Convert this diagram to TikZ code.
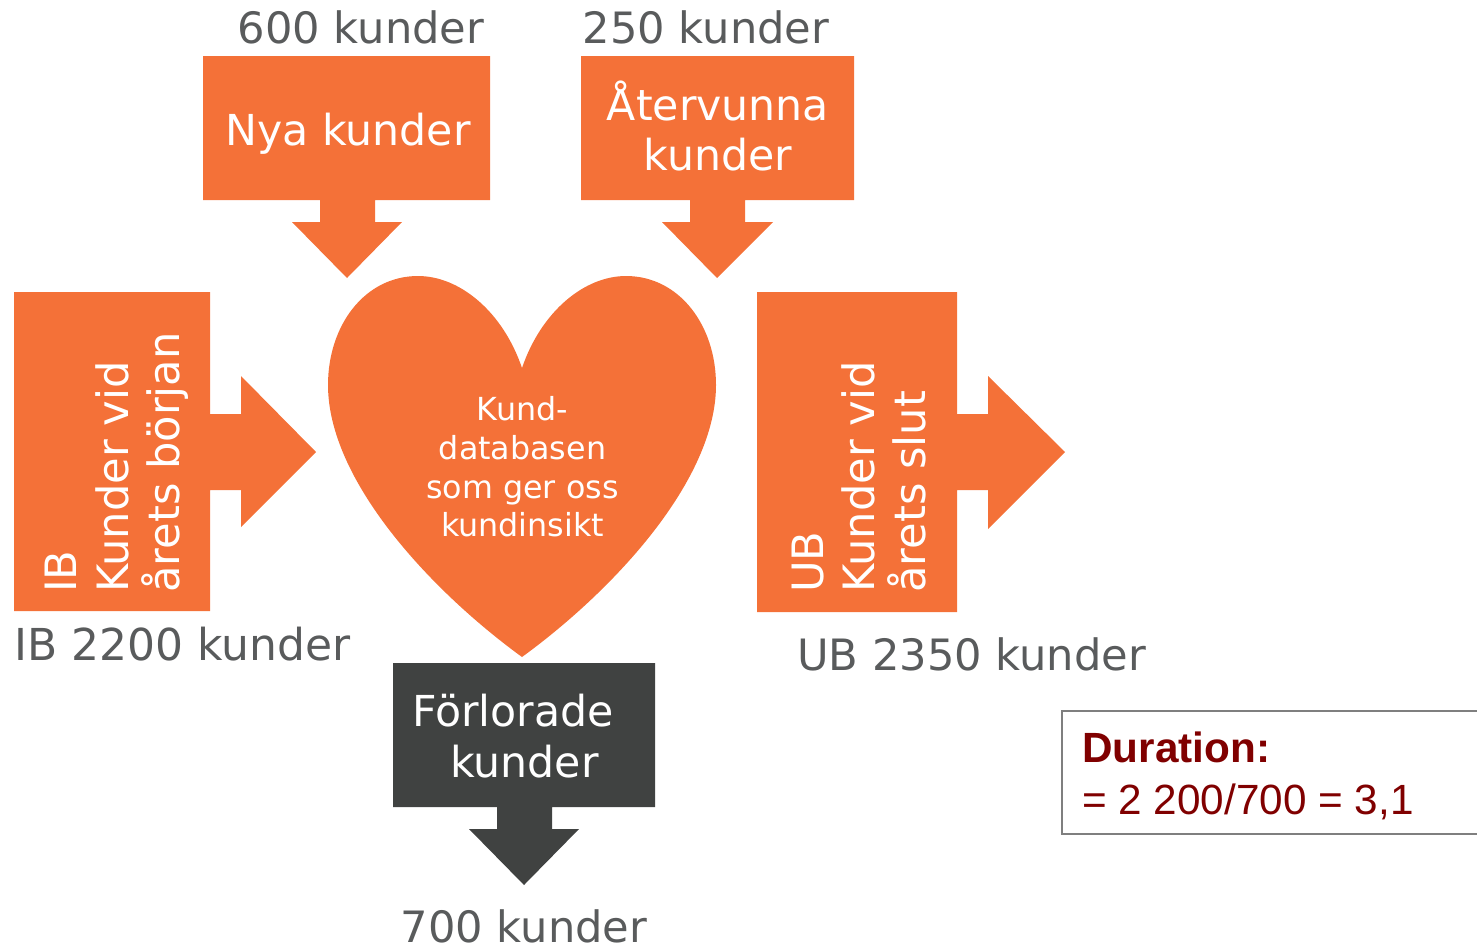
\documentclass[tikz,border=0pt]{standalone}
\usepackage{fontspec}
\setmainfont{DejaVu Sans}
\newfontfamily\arialfont{Liberation Sans}
\definecolor{orangefill}{HTML}{F47138}
\definecolor{darkfill}{HTML}{404241}
\definecolor{graytext}{HTML}{595B5C}
\definecolor{durred}{HTML}{800000}
\definecolor{durline}{HTML}{7F7F7F}
\tikzset{
  x=0.75pt,y=-0.75pt,
  orangeshape/.style={fill=orangefill,draw=none},
  darkshape/.style={fill=darkfill,draw=none},
  boxtext/.style={text=white,font=\fontsize{32}{38}\selectfont,align=center,inner sep=0pt},
  sidetext/.style={text=white,font=\fontsize{32.4}{38.5}\selectfont,align=left,inner sep=0pt,rotate=90},
  hearttext/.style={text=white,font=\fontsize{23.8}{29}\selectfont,align=center,inner sep=0pt},
  countlabel/.style={text=graytext,font=\fontsize{32.4}{38}\selectfont,inner sep=0pt},
  widecount/.style={text=graytext,font=\fontsize{33}{38}\selectfont,inner sep=0pt},
  durtext/.style={text=durred,font=\arialfont\fontsize{31.7}{39}\selectfont,align=left,inner sep=0pt},
}
\begin{document}
\begin{tikzpicture}
\useasboundingbox (0,0) rectangle (1477,947);
% Nya kunder
\fill[orangeshape] (203,56) -- (490,56) -- (490,200) -- (375,200) -- (375,222) -- (402,222) -- (347,278) -- (292,222) -- (320,222) -- (320,200) -- (203,200) -- cycle;
% Atervunna
\fill[orangeshape] (581,56) -- (854,56) -- (854,200) -- (745,200) -- (745,222) -- (773,222) -- (717,278) -- (662,222) -- (690,222) -- (690,200) -- (581,200) -- cycle;
% IB
\fill[orangeshape] (14,292) -- (210,292) -- (210,414) -- (241,414) -- (241,376) -- (316,452) -- (241,527) -- (241,490) -- (210,490) -- (210,611) -- (14,611) -- cycle;
% UB
\fill[orangeshape] (757,292) -- (957,292) -- (957,414) -- (988,414) -- (988,376) -- (1065,452) -- (988,529) -- (988,490) -- (957,490) -- (957,612) -- (757,612) -- cycle;
% Heart
\fill[orangeshape] (522,368) .. controls (503,312) and (460,276) .. (418,276) .. controls (365,276) and (328,325) .. (328,385) .. controls (328,480) and (430,590) .. (522,657) .. controls (614,590) and (716,480) .. (716,385) .. controls (716,325) and (679,276) .. (626,276) .. controls (584,276) and (541,312) .. (522,368) -- cycle;
% Forlorade
\fill[darkshape] (393,663) -- (655,663) -- (655,807) -- (552,807) -- (552,829) -- (579,829) -- (524,885) -- (469,829) -- (497,829) -- (497,807) -- (393,807) -- cycle;
% Duration box
\draw[draw=durline,line width=1.1pt,fill=white] (1062,711) -- (1480,711) -- (1480,834) -- (1062,834) -- cycle;

\node[boxtext] (nya) at (348,134) {Nya kunder};
\node[boxtext] (ater) at (718,126) {Återvunna\\kunder};
\node[boxtext] (forl) at (513,736) {Förlorade\\\hspace*{0.54em}kunder};
\node[hearttext] (heart) at (522.5,467) {Kund-\\databasen\\som ger oss\\kundinsikt};
\node[sidetext,anchor=west] (ib) at (117,593) {IB\\Kunder vid\\årets början};
\node[sidetext,anchor=west] (ub) at (859,593) {UB\\Kunder vid\\årets slut};
\node[countlabel] (c600) at (361,27) {600 kunder};
\node[countlabel] (c250) at (706,27) {250 kunder};
\node[widecount,anchor=west] (cib) at (14,644) {IB 2200 kunder};
\node[countlabel,anchor=west] (cub) at (797,654) {UB 2350 kunder};
\node[countlabel] (c700) at (524,926) {700 kunder};
\node[durtext,anchor=west] (dur) at (1082,776) {\textbf{Duration:}\\= 2 200/700 = 3,1};
\end{tikzpicture}
\end{document}
